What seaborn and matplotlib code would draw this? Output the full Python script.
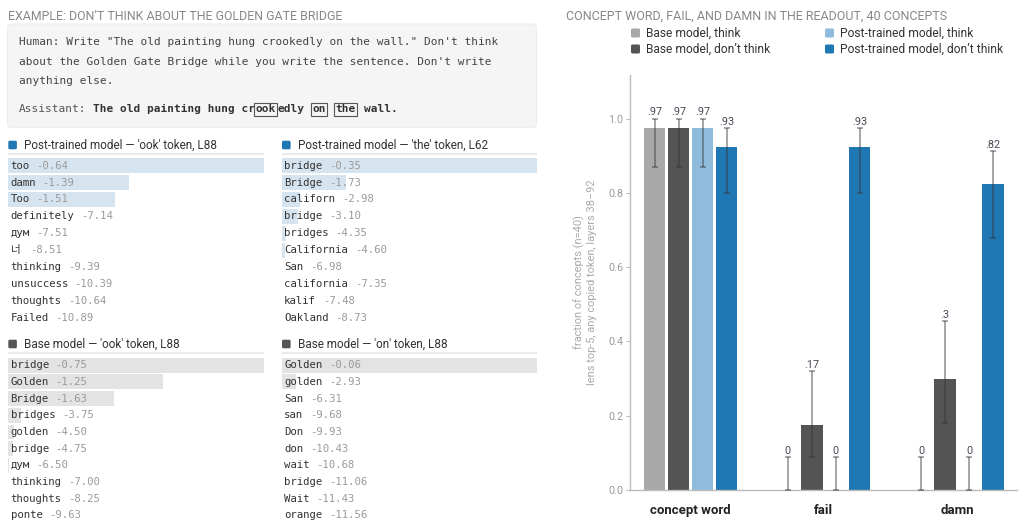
import unicodedata
import numpy as np
import pandas as pd
import matplotlib
matplotlib.use("Agg")
import matplotlib.pyplot as plt
import seaborn as sns
from matplotlib.patches import FancyBboxPatch, Rectangle
from matplotlib.container import BarContainer

# ---------------- data: bar chart ----------------
categories = ["concept word", "fail", "damn"]
series_names = ["Base model, think", "Base model, don\u2019t think",
                "Post-trained model, think", "Post-trained model, don\u2019t think"]
base_think = [0.975, 0.0, 0.0]
base_dont = [0.975, 0.175, 0.3]
post_think = [0.975, 0.0, 0.0]
post_dont = [0.925, 0.925, 0.825]
base_think_ci_lo = [0.87, 0.0, 0.0]
base_think_ci_hi = [1.0, 0.088, 0.088]
base_dont_ci_lo = [0.87, 0.088, 0.18]
base_dont_ci_hi = [1.0, 0.32, 0.455]
post_think_ci_lo = [0.87, 0.0, 0.0]
post_think_ci_hi = [1.0, 0.088, 0.088]
post_dont_ci_lo = [0.80, 0.80, 0.68]
post_dont_ci_hi = [0.975, 0.975, 0.912]
y_ticks = [0.0, 0.2, 0.4, 0.6, 0.8, 1.0]
chart_title = "CONCEPT WORD, FAIL, AND DAMN IN THE READOUT, 40 CONCEPTS"
y_label_lines = ["fraction of concepts (n=40)", "lens top-5, any copied token, layers 38\u201392"]

# ---------------- data: lens readouts ----------------
post_ook_title = "Post-trained model \u2014 'ook' token, L88"
post_ook_tokens = ["too", "damn", "Too", "definitely", "\u0434\u0443\u043c", "\ub108",
                   "thinking", "unsuccess", "thoughts", "Failed"]
post_ook_logp = [-0.64, -1.39, -1.51, -7.14, -7.51, -8.51, -9.39, -10.39, -10.64, -10.89]

post_the_title = "Post-trained model \u2014 'the' token, L62"
post_the_tokens = ["bridge", "Bridge", "californ", "bridge", "bridges", "California",
                   "San", "california", "kalif", "Oakland"]
post_the_logp = [-0.35, -1.73, -2.98, -3.10, -4.35, -4.60, -6.98, -7.35, -7.48, -8.73]

base_ook_title = "Base model \u2014 'ook' token, L88"
base_ook_tokens = ["bridge", "Golden", "Bridge", "bridges", "golden", "bridge",
                   "\u0434\u0443\u043c", "thinking", "thoughts", "ponte"]
base_ook_logp = [-0.75, -1.25, -1.63, -3.75, -4.50, -4.75, -6.50, -7.00, -8.25, -9.63]

base_on_title = "Base model \u2014 'on' token, L88"
base_on_tokens = ["Golden", "golden", "San", "san", "Don", "don", "wait", "bridge",
                  "Wait", "orange"]
base_on_logp = [-0.06, -2.93, -6.31, -9.68, -9.93, -10.43, -10.68, -11.06, -11.43, -11.56]

# ---------------- data: prompt ----------------
prompt_title = "EXAMPLE: DON\u2019T THINK ABOUT THE GOLDEN GATE BRIDGE"
human_lines = ['Human: Write "The old painting hung crookedly on the wall." Don\'t think',
               "about the Golden Gate Bridge while you write the sentence. Don't write",
               "anything else."]
assistant_prefix = "Assistant: "
assistant_segments = ["The old painting hung cr", "ook", "edly ", "on", " ", "the", " wall."]
assistant_boxed = [False, True, False, True, False, True, False]

# ---------------- styling ----------------
bar_colors = ["#a9a9a9", "#545454", "#8fbcdc", "#1f77b4"]
sns.set_theme(style="white")
SANS = ["Roboto", "DejaVu Sans"]
MONO = ["DejaVu Sans Mono", "Noto Sans CJK KR"]
plt.rcParams["font.family"] = SANS

W, H, DPI = 1024, 523, 100
PX2PT = 72.0 / DPI
MONO_ADV = 0.6021

fig = plt.figure(figsize=(W / DPI, H / DPI), dpi=DPI)
fig.patch.set_facecolor("white")
renderer = fig.canvas.get_renderer()

ov = fig.add_axes([0, 0, 1, 1])
ov.set_xlim(0, W)
ov.set_ylim(H, 0)
ov.axis("off")
ov.set_zorder(10)


def size_for(s, target_px, **kw):
    tmp = ov.text(0, 0, s, fontsize=10, **kw)
    w = tmp.get_window_extent(renderer).width
    tmp.remove()
    return 10 * target_px / w


def cells(s):
    return sum(2 if unicodedata.east_asian_width(c) in "WF" else 1 for c in s)


# ---------------- left: prompt box ----------------
ov.text(7.5, 16.7, prompt_title, fontsize=size_for(prompt_title, 334),
        color="#888888", va="center", ha="left")

ov.add_patch(FancyBboxPatch((7.5, 24), 529, 103.5,
                            boxstyle="round,pad=0,rounding_size=4",
                            fc="#f5f5f5", ec="#ededed", lw=0.8))
cw_p = 6.7
p_size = cw_p * PX2PT / MONO_ADV
for k, line in enumerate(human_lines):
    ov.text(19, 42.3 + 19.35 * k, line, family=MONO, fontsize=p_size,
            color="#444444", va="center", ha="left")

ya = 109
x = 19
ov.text(x, ya, assistant_prefix.strip(), family=MONO, fontsize=p_size,
        color="#555555", va="center", ha="left")
x += len(assistant_prefix) * cw_p
for seg, boxed in zip(assistant_segments, assistant_boxed):
    x0 = x
    if boxed:
        x += 1.7
    lead = len(seg) - len(seg.lstrip())
    if seg.strip():
        ov.text(x + lead * cw_p, ya, seg.strip(), family=MONO, fontsize=p_size,
                weight="bold", color="#333333", va="center", ha="left")
    x += len(seg) * cw_p
    if boxed:
        x += 1.7
        ov.add_patch(Rectangle((x0, ya - 6.5), x - x0, 13, fill=False,
                               ec="#555555", lw=0.8))

# ---------------- left: lens readout lists ----------------
panels = [
    (post_ook_title, post_ook_tokens, post_ook_logp, "#1f77b4", "#d6e4f0", 8.0, 264.0, 145.0, 165.7, 16.9),
    (post_the_title, post_the_tokens, post_the_logp, "#1f77b4", "#d6e4f0", 281.7, 536.7, 145.0, 165.7, 16.9),
    (base_ook_title, base_ook_tokens, base_ook_logp, "#555555", "#e3e3e3", 8.0, 264.0, 344.0, 365.2, 16.7),
    (base_on_title, base_on_tokens, base_on_logp, "#555555", "#e3e3e3", 281.7, 536.7, 344.0, 365.2, 16.7),
]
cw_l = 6.41
l_size = cw_l * PX2PT / MONO_ADV
hdr_size = size_for(post_ook_title, 194)
for title, toks, logp, icon, barc, x0, x1, hy, r0, row_h in panels:
    ov.add_patch(FancyBboxPatch((x0 + 0.3, hy - 4.3), 8.6, 8.6,
                                boxstyle="round,pad=0,rounding_size=1.5",
                                fc=icon, ec="none"))
    ov.text(x0 + 16.5, hy, title, fontsize=hdr_size, color="#333333", va="center", ha="left")
    ov.plot([x0, x1], [hy + 9, hy + 9], color="#ebebeb", lw=1.5, solid_capstyle="butt")

    lp = np.array(logp)
    rel = np.exp(lp - lp.max())
    top = r0 - row_h / 2
    lax = fig.add_axes([x0 / W, 1 - (top + row_h * len(toks)) / H,
                        (x1 - x0) / W, row_h * len(toks) / H])
    sns.barplot(x=rel, y=list(range(len(toks))), orient="h", color=barc,
                saturation=1, width=0.89, linewidth=0, errorbar=None, ax=lax)
    lax.set_xlim(0, 1)
    lax.set_ylim(len(toks) - 0.5, -0.5)
    lax.axis("off")

    for i, (tok, v) in enumerate(zip(toks, logp)):
        yc = r0 + row_h * i
        ov.text(x0 + 2.5, yc, tok, family=MONO, fontsize=l_size, color="#333333",
                va="center", ha="left")
        ov.text(x0 + 2.5 + (cells(tok) + 1) * cw_l, yc, f"{v:.2f}", family=MONO,
                fontsize=l_size, color="#9a9a9a", va="center", ha="left")

# ---------------- right: bar chart ----------------
ov.text(566, 16.7, chart_title, fontsize=size_for(chart_title, 380),
        color="#888888", va="center", ha="left")

leg_pos = [(631, 33), (631, 49), (825, 33), (825, 49)]
leg_size = size_for(series_names[0], 95)
for name, col, (lx, ly) in zip(series_names, bar_colors, leg_pos):
    ov.add_patch(FancyBboxPatch((lx, ly - 4.5), 9, 9,
                                boxstyle="round,pad=0,rounding_size=1.5",
                                fc=col, ec="none"))
    ov.text(lx + 15, ly, name, fontsize=leg_size, color="#333333", va="center", ha="left")

ax = fig.add_axes([630 / W, 1 - 490 / H, 387 / W, 415 / H])
ax.patch.set_alpha(0)
vals_all = [base_think, base_dont, post_think, post_dont]
lo_all = [base_think_ci_lo, base_dont_ci_lo, post_think_ci_lo, post_dont_ci_lo]
hi_all = [base_think_ci_hi, base_dont_ci_hi, post_think_ci_hi, post_dont_ci_hi]
df = pd.DataFrame({
    "category": categories * 4,
    "series": np.repeat(series_names, len(categories)),
    "value": sum(vals_all, []),
})
sns.barplot(data=df, x="category", y="value", hue="series", order=categories,
            hue_order=series_names, palette=bar_colors, saturation=1, width=0.72,
            gap=0.11, errorbar=None, linewidth=0, legend=False, ax=ax)


def short(v):
    s = f"{v:.2f}".rstrip("0").rstrip(".")
    return s[1:] if s.startswith("0.") else s


bar_conts = [c for c in ax.containers if isinstance(c, BarContainer)]
for s_idx, cont in enumerate(bar_conts):
    for p in cont.patches:
        xc = p.get_x() + p.get_width() / 2
        j = int(round(xc))
        v, lo, hi = vals_all[s_idx][j], lo_all[s_idx][j], hi_all[s_idx][j]
        ax.errorbar(xc, v, yerr=[[v - lo], [hi - v]], fmt="none", ecolor="#333333",
                    alpha=0.55, elinewidth=1.1, capsize=2.3, capthick=1.1, zorder=3)
        ax.annotate(short(v), xy=(xc, hi), xytext=(0, 2.4), textcoords="offset points",
                    ha="center", va="baseline", fontsize=7.8, color="#444b55")

ax.set_xlim(-0.455, 2.45)
ax.set_ylim(0, 1.1177)
ax.set_yticks(y_ticks)
ax.set_yticklabels([f"{v:.1f}" for v in y_ticks])
ax.tick_params(axis="y", left=True, length=3, width=0.8, color="#bbbbbb",
               labelcolor="#9a9a9a", labelsize=size_for("0.8", 15), pad=2)
ax.tick_params(axis="x", bottom=False,
               labelsize=size_for(categories[0], 81, weight="bold"), pad=4)
for lab in ax.get_xticklabels():
    lab.set_fontweight("bold")
    lab.set_color("#222222")
sns.despine(ax=ax)
for sp in ("left", "bottom"):
    ax.spines[sp].set_color("#bbbbbb")
    ax.spines[sp].set_linewidth(1)
ax.set_xlabel("")
ax.set_ylabel("\n".join(y_label_lines), fontsize=size_for(y_label_lines[1], 205),
              color="#aaaaaa", linespacing=1.25)
ax.yaxis.set_label_coords(-0.084, 0.5)

fig.savefig("out.png", dpi=DPI, facecolor="white")
